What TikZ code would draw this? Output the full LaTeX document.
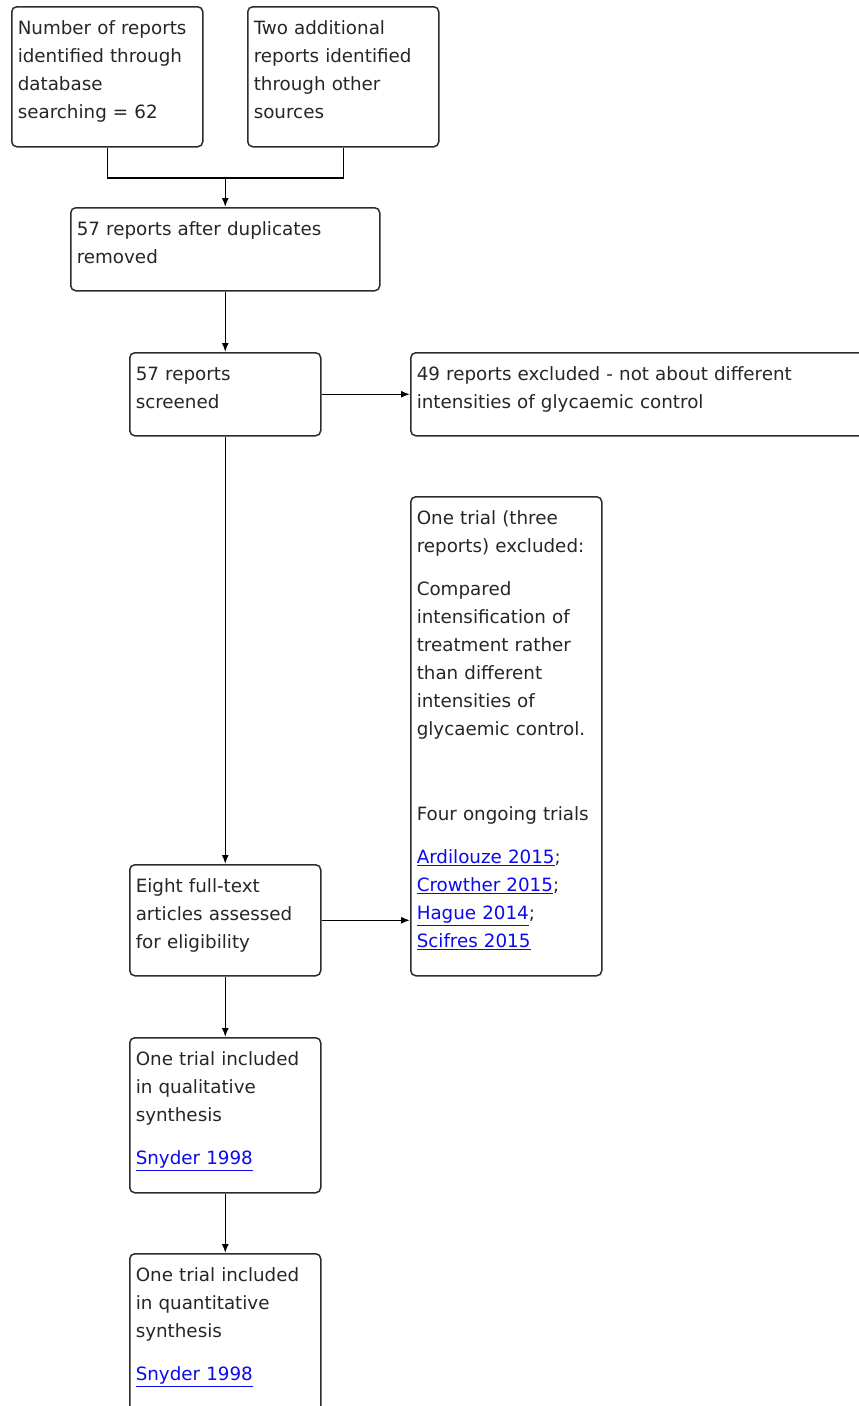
\documentclass[tikz,border=0pt]{standalone}
\usepackage{fontspec}
\setmainfont{DejaVu Sans}
\usetikzlibrary{arrows.meta}
\definecolor{linkblue}{RGB}{10,10,235}
\definecolor{boxline}{RGB}{45,45,45}
\newcommand{\reflink}[1]{\textcolor{linkblue}{\underline{#1}}}

\begin{document}
\begin{tikzpicture}[x=1pt, y=-1pt,
    box/.style={rectangle, draw=boxline, line width=1.5pt, rounded corners=5pt,
        anchor=north west, align=left, text width=179pt, inner xsep=6pt,
        inner ysep=0pt, text height=28pt, text=black!85,
        font=\fontsize{18.3}{28}\selectfont},
    flow/.style={line width=1.5pt},
    >={Latex[length=9pt, width=7pt]}]
    \useasboundingbox (0, 0) rectangle (859, 1406);

    \draw (11, 6) node[box, text depth=112pt] (search) {Number of reports\\ identified through\\ database\\ searching = 62};
    \draw (247, 6) node[box, text depth=112pt] (other) {Two additional\\ reports identified\\ through other\\ sources};
    \draw (70, 207) node[box, text width=297pt, text depth=55pt] (dedup) {57 reports after duplicates\\ removed};
    \draw (129, 352) node[box, text depth=55pt] (screen) {57 reports\\ screened};
    \draw (410, 352) node[box, text width=508pt, text depth=55pt] (excl) {49 reports excluded - not about different\\ intensities of glycaemic control};
    \draw (410, 496) node[box, text depth=451pt] (fullexcl) {One trial (three\\ reports) excluded:\\[15pt]
        Compared\\ intensification of\\ treatment rather\\ than different\\ intensities of\\ glycaemic control.\\[57pt]
        Four ongoing trials\\[15pt]
        \reflink{Ardilouze 2015};\\ \reflink{Crowther 2015};\\ \reflink{Hague 2014};\\ \reflink{Scifres 2015}};
    \draw (129, 864) node[box, text depth=83pt] (elig) {Eight full-text\\ articles assessed\\ for eligibility};
    \draw (129, 1037) node[box, text depth=127pt] (qual) {One trial included\\ in qualitative\\ synthesis\\[15pt] \reflink{Snyder 1998}};
    \draw (129, 1253) node[box, text depth=200pt] (quant) {One trial included\\ in quantitative\\ synthesis\\[15pt] \reflink{Snyder 1998}};

    % merge of the two sources
    \coordinate (join) at (dedup.north |- 0, 178);
    \draw[flow] (search.south) |- (join) -| (other.south);
    \draw[flow, ->] (join) -- (dedup.north);

    \draw[flow, ->] (dedup.south) -- (screen.north);
    \draw[flow, ->] (screen.east) -- (excl.west);
    \draw[flow, ->] (screen.south) -- (elig.north);
    \draw[flow, ->] (elig.east) -- (elig.east -| fullexcl.west);
    \draw[flow, ->] (elig.south) -- (qual.north);
    \draw[flow, ->] (qual.south) -- (quant.north);
\end{tikzpicture}
\end{document}
